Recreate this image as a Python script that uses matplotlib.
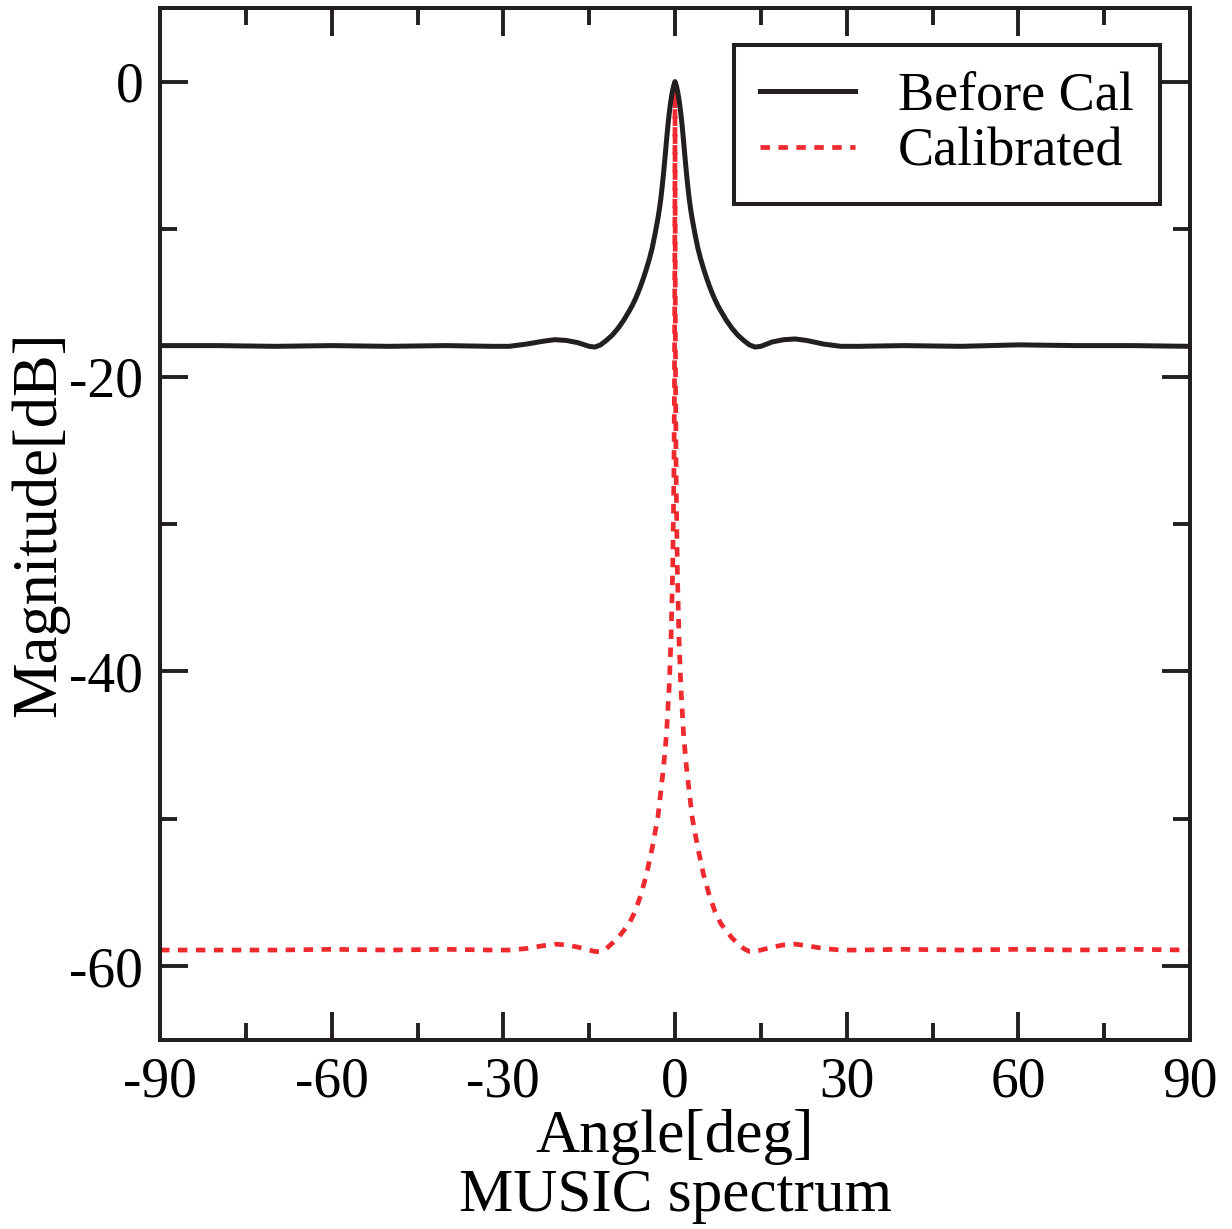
import matplotlib
matplotlib.use('Agg')
import matplotlib.pyplot as plt
import numpy as np


plt.rcParams['font.family'] = ['Liberation Serif', 'DejaVu Serif']
plt.rcParams['axes.unicode_minus'] = False

# one side of the spectra (angle >= 0), mirrored for negative angles
angle_pos = [0, 0.25, 0.5, 0.75, 1, 1.25, 1.5, 1.75, 2, 2.25, 2.5, 2.75, 3, 3.5,
             4, 4.5, 5, 5.5, 6, 6.5, 7, 7.5, 8, 9, 10, 11, 12, 13, 14, 15, 17,
             19, 21, 23, 26, 29, 32, 40, 50, 60, 70, 80, 90]
before_pos = [0, -0.3, -0.75, -1.35, -2.1, -3.0, -4.05, -5.15, -6.2, -7.15, -8.0,
              -8.7, -9.3, -10.35, -11.3, -12.05, -12.7, -13.3, -13.85, -14.35,
              -14.8, -15.2, -15.55, -16.2, -16.75, -17.2, -17.55, -17.85, -18.0,
              -17.95, -17.65, -17.5, -17.45, -17.55, -17.8, -17.95, -17.95,
              -17.9, -17.95, -17.85, -17.9, -17.9, -17.95]
before_neg = [0, -0.3, -0.75, -1.35, -2.1, -3.0, -4.05, -5.15, -6.2, -7.15, -8.0,
              -8.7, -9.3, -10.35, -11.3, -12.05, -12.7, -13.3, -13.85, -14.35,
              -14.8, -15.2, -15.55, -16.2, -16.75, -17.2, -17.55, -17.85, -18.0,
              -17.95, -17.7, -17.55, -17.5, -17.6, -17.8, -17.95, -17.95,
              -17.9, -17.95, -17.9, -17.95, -17.9, -17.9]

angle_red = [0, 0.01, 0.02, 0.05, 0.1, 0.2, 0.4, 0.7, 1, 1.5, 2, 3, 4, 5, 6, 7,
             8, 9, 10, 11, 12, 13, 14, 15, 17, 19, 21, 23, 26, 29, 32, 40, 50,
             60, 70, 80, 90]
calib_pos = [0, -3.5, -7.7, -15.0, -20.9, -26.9, -33.0, -37.8, -40.9, -44.3,
             -46.5, -49.9, -52.0, -53.8, -55.2, -56.3, -57.1, -57.6, -58.1,
             -58.45, -58.8, -59.0, -59.0, -58.9, -58.7, -58.55, -58.5, -58.6,
             -58.8, -58.9, -58.9, -58.85, -58.9, -58.85, -58.9, -58.85, -58.9]
calib_neg = [0, -3.5, -7.7, -15.0, -20.9, -26.9, -33.0, -37.8, -40.9, -44.3,
             -46.5, -49.9, -52.0, -53.8, -55.2, -56.3, -57.1, -57.6, -58.1,
             -58.45, -58.8, -59.0, -59.0, -58.9, -58.7, -58.55, -58.5, -58.6,
             -58.8, -58.9, -58.9, -58.85, -58.9, -58.85, -58.9, -58.9, -58.9]

x_ticks = [-90, -60, -30, 0, 30, 60, 90]
y_ticks = [0, -20, -40, -60]


def mirror(pos_x, pos_y, neg_y):
  x = np.concatenate([-np.array(pos_x[::-1]), np.array(pos_x[1:])])
  y = np.concatenate([np.array(neg_y[::-1]), np.array(pos_y[1:])])
  return x, y


fig = plt.figure(figsize=(12.32, 12.29), dpi=100)
ax = fig.add_axes([0.1299, 0.1538, 0.8360, 0.8397])

xb, yb = mirror(angle_pos, before_pos, before_neg)
xr, yr = mirror(angle_red, calib_pos, calib_neg)

ax.plot(xb, yb, color='#231f20', lw=3.6, label='Before Cal', zorder=3)
ax.plot(xr, yr, color='#ee2a2f', lw=3.4, dashes=(2.0, 1.8), label='Calibrated', zorder=2)

ax.set_xlim(-90, 90)
ax.set_ylim(-65, 5)
ax.set_xticks(x_ticks)
ax.set_xticks(np.arange(-75, 90, 30), minor=True)
ax.set_yticks(y_ticks)
ax.set_yticks([-10, -30, -50], minor=True)
ax.tick_params(which='both', direction='in', top=True, right=True,
               width=2.8, color='#231f20', labelsize=40, pad=12)
ax.tick_params(which='major', length=20)
ax.tick_params(which='minor', length=12)
for s in ax.spines.values():
  s.set_linewidth(2.9)
  s.set_color('#231f20')

ax.set_xlabel('Angle[deg]\nMUSIC spectrum', fontsize=44, linespacing=1.1, labelpad=0)
ax.set_ylabel('Magnitude[dB]', fontsize=45, labelpad=0)

leg = ax.legend(loc='upper right', bbox_to_anchor=(0.971, 0.964), fontsize=39,
                fancybox=False, framealpha=1, edgecolor='#231f20',
                handlelength=1.75, handletextpad=0.8, borderpad=0.48,
                labelspacing=0.1, borderaxespad=0)
leg.get_frame().set_linewidth(2.9)

fig.savefig('out.png', dpi=100)
